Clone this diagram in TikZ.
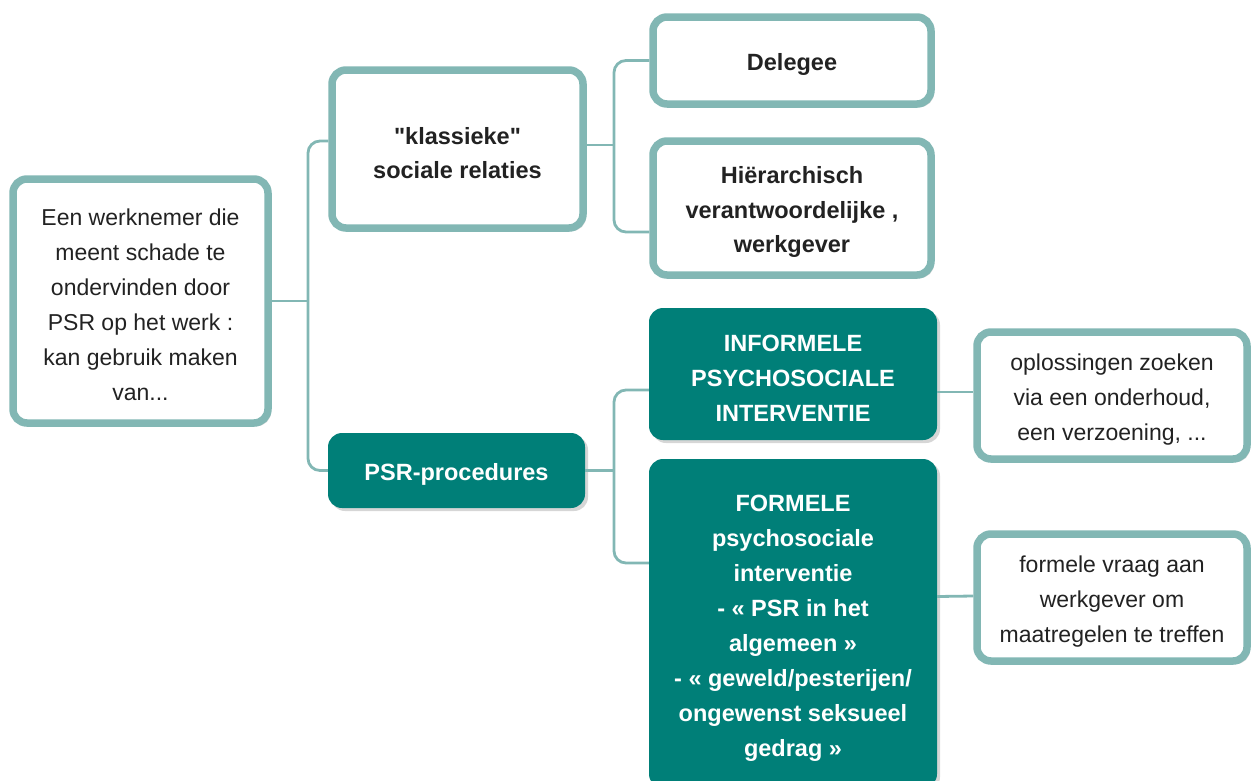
\documentclass[tikz,border=0pt]{standalone}
\usepackage{fontspec}
\setmainfont{Liberation Sans}[Ligatures=TeXOff]
\usetikzlibrary{shadows}
\definecolor{lteal}{HTML}{82B7B4}
\definecolor{dteal}{HTML}{007F78}
\definecolor{ink}{HTML}{222222}
\newcommand{\tstrut}{\rule{0pt}{25pt}}
\begin{document}
\begin{tikzpicture}[x=1pt,y=-1pt,
  shad/.style={drop shadow={shadow xshift=3pt,shadow yshift=-3pt,opacity=0.16,fill=black}},
  box/.style={draw=lteal, line width=7.5pt, rounded corners=14pt, fill=white, text=ink,
    align=center, inner sep=0pt, font=\fontsize{23}{35}\selectfont, shad},
  bbox/.style={box, font=\fontsize{23.5}{34.5}\selectfont\bfseries},
  fbox/.style={fill=dteal, draw=none, rounded corners=14pt, text=white, align=center,
    inner sep=0pt, font=\fontsize{23.5}{35}\selectfont\bfseries, shad},
  conn/.style={draw=lteal, line width=2.8pt, rounded corners=12pt}]
\useasboundingbox (0,0) rectangle (1252,780);

\node[box, minimum width=255pt, minimum height=244pt] (src) at (140.5,301)
  {\tstrut Een werknemer die\\meent schade te\\ondervinden door\\PSR op het werk :\\kan gebruik maken\\van...};
\node[bbox, minimum width=251pt, minimum height=158pt] (kl) at (457.5,149)
  {\tstrut"klassieke"\\sociale relaties};
\node[fbox, minimum width=257pt, minimum height=75pt] (psr) at (456.5,470.5)
  {\tstrut PSR-procedures};
\node[bbox, minimum width=278pt, minimum height=87pt] (del) at (792,60.5)
  {\tstrut Delegee};
\node[bbox, minimum width=278pt, minimum height=134pt] (hier) at (792,208)
  {\tstrut Hiërarchisch\\verantwoordelijke ,\\werkgever};
\node[fbox, minimum width=288pt, minimum height=132pt] (inf) at (793,374)
  {\tstrut INFORMELE\\PSYCHOSOCIALE\\INTERVENTIE};
\node[fbox, minimum width=288pt, minimum height=329pt] (form) at (793,623.5)
  {\tstrut FORMELE\\psychosociale\\interventie\\- « PSR in het\\algemeen »\\- « geweld/pesterijen/\\ongewenst seksueel\\gedrag »};
\node[box, minimum width=270pt, minimum height=127pt] (opl) at (1112,395.5)
  {\tstrut oplossingen zoeken\\via een onderhoud,\\een verzoening, ...};
\node[box, minimum width=270pt, minimum height=127pt] (fv) at (1112,597.5)
  {\tstrut formele vraag aan\\werkgever om\\maatregelen te treffen};

\coordinate (j1) at (308,301);
\coordinate (j2) at (614,145);
\coordinate (j3) at (614,470.5);

\draw[conn] (src.east) -- (j1);
\draw[conn] ([yshift=8pt]kl.west) -| (j1) |- (psr.west);
\draw[conn] ([yshift=4pt]kl.east) -- (j2);
\draw[conn] (del.west) -| (j2) |- ([yshift=-24pt]hier.west);
\draw[conn] (psr.east) -- (j3);
\draw[conn] ([yshift=-16pt]inf.west) -| (j3) |- ([yshift=60.5pt]form.west);
\draw[conn] ([yshift=-18pt]inf.east) -- ([yshift=3.5pt]opl.west);
\draw[conn] ([yshift=27pt]form.east) -- ([yshift=1.5pt]fv.west);
\end{tikzpicture}
\end{document}
